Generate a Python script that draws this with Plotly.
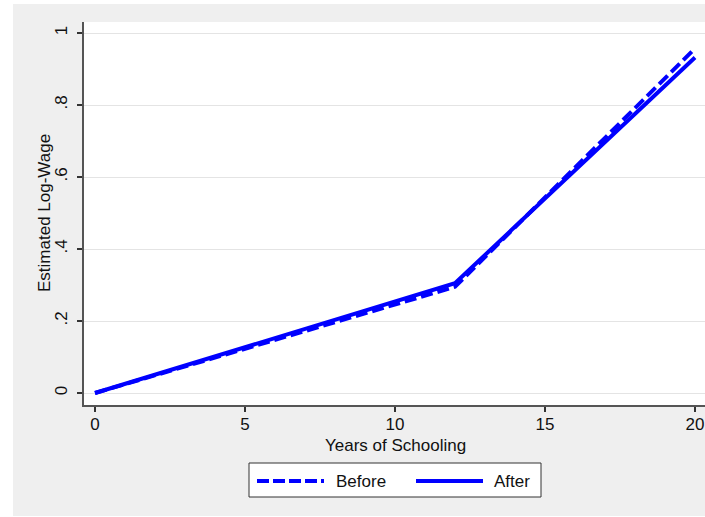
import plotly.graph_objects as go

# Estimated log-wage profiles by years of schooling
years = [0, 12, 20]
before = [0.0, 0.295, 0.957]
after = [0.0, 0.305, 0.932]

x_ticks = [0, 5, 10, 15, 20]
y_ticks = [0, 0.2, 0.4, 0.6, 0.8, 1.0]
y_tick_text = ["0", ".2", ".4", ".6", ".8", "1"]

BLUE = "#0000FF"
FONT = "Liberation Sans, Arial, Helvetica, sans-serif"
FS = 17
W, H = 705, 517
L, R, T, B = 84, 0, 22, 112
PW, PH = W - L - R, H - T - B


def px_x(p):
    return (p - L) / PW


def px_y(p):
    return (H - B - p) / PH


fig = go.Figure()
fig.add_trace(go.Scatter(x=years, y=before, mode="lines", name="Before",
                         line=dict(color=BLUE, width=4, dash="12px,5px")))
fig.add_trace(go.Scatter(x=years, y=after, mode="lines", name="After",
                         line=dict(color=BLUE, width=4)))

shapes = [
    # white outer strips (left, top, bottom row)
    dict(type="rect", xref="paper", yref="paper", x0=px_x(-10), x1=px_x(13),
         y0=px_y(530), y1=px_y(-10), fillcolor="white", line_width=0, layer="below"),
    dict(type="rect", xref="paper", yref="paper", x0=px_x(-10), x1=px_x(720),
         y0=px_y(4), y1=px_y(-10), fillcolor="white", line_width=0, layer="below"),
    dict(type="rect", xref="paper", yref="paper", x0=px_x(-10), x1=px_x(720),
         y0=px_y(530), y1=px_y(516), fillcolor="white", line_width=0, layer="below"),
    # legend box
    dict(type="rect", xref="paper", yref="paper", x0=px_x(249), x1=px_x(541),
         y0=px_y(497), y1=px_y(463), fillcolor="white",
         line=dict(color="#333333", width=1)),
    dict(type="line", xref="paper", yref="paper", x0=px_x(257), x1=px_x(324),
         y0=px_y(481), y1=px_y(481), line=dict(color=BLUE, width=4, dash="12px,4px")),
    dict(type="line", xref="paper", yref="paper", x0=px_x(416), x1=px_x(483),
         y0=px_y(481), y1=px_y(481), line=dict(color=BLUE, width=4)),
]

annotations = [
    dict(text="Before", xref="paper", yref="paper", x=px_x(334), y=px_y(481),
         xanchor="left", yanchor="middle", showarrow=False,
         font=dict(family=FONT, size=FS, color="#111111")),
    dict(text="After", xref="paper", yref="paper", x=px_x(492), y=px_y(481),
         xanchor="left", yanchor="middle", showarrow=False,
         font=dict(family=FONT, size=FS, color="#111111")),
    dict(text="Years of Schooling", xref="paper", yref="paper", x=px_x(395),
         y=px_y(445), xanchor="center", yanchor="middle", showarrow=False,
         font=dict(family=FONT, size=FS, color="#111111")),
    dict(text="Estimated Log-Wage", xref="paper", yref="paper", x=px_x(44),
         y=px_y(213), xanchor="center", yanchor="middle", showarrow=False,
         textangle=-90, font=dict(family=FONT, size=FS, color="#111111")),
]

fig.update_layout(
    width=W, height=H,
    margin=dict(l=L, r=R, t=T, b=B),
    paper_bgcolor="#EFEFEF",
    plot_bgcolor="white",
    showlegend=False,
    shapes=shapes,
    annotations=annotations,
    font=dict(family=FONT, size=FS, color="#111111"),
)

fig.update_xaxes(
    range=[-11 / 30, (W - R - 95) / 30],
    tickvals=x_ticks, ticktext=[str(v) for v in x_ticks],
    showgrid=False, zeroline=False,
    showline=True, linecolor="#555555", linewidth=2,
    ticks="outside", ticklen=5, tickwidth=1.5, tickcolor="#333333",
    ticklabelstandoff=-2,
    tickfont=dict(family=FONT, size=FS, color="#111111"),
)
fig.update_yaxes(
    range=[-12 / 360, 371 / 360],
    tickvals=y_ticks, ticktext=y_tick_text, tickangle=-90,
    showgrid=True, gridcolor="#E4E4E4", gridwidth=1, zeroline=False,
    showline=True, linecolor="#555555", linewidth=2,
    ticks="outside", ticklen=5, tickwidth=1.5, tickcolor="#333333",
    ticklabelstandoff=3,
    tickfont=dict(family=FONT, size=FS, color="#111111"),
)

fig.write_html("out.html")
